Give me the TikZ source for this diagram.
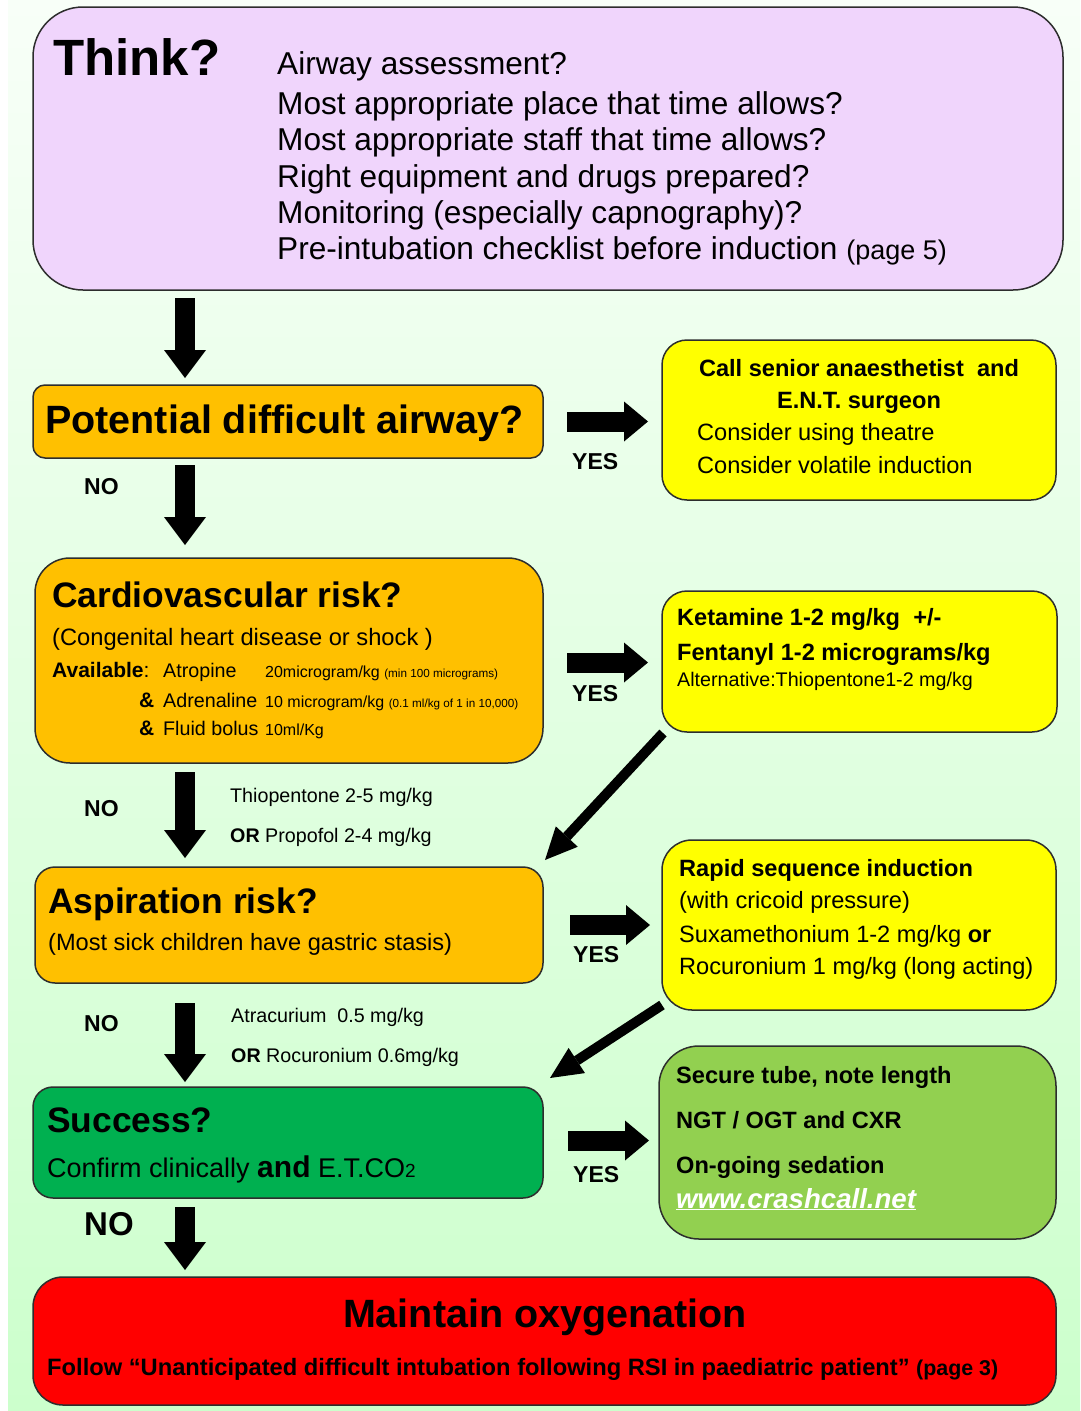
\documentclass[tikz,border=0pt]{standalone}
\usepackage{fontspec}
\setmainfont{Liberation Sans}
\usetikzlibrary{arrows.meta,calc}

\definecolor{thinkfill}{RGB}{240,213,252}
\definecolor{orangefill}{RGB}{255,192,0}
\definecolor{yellowfill}{RGB}{255,255,0}
\definecolor{greenfill}{RGB}{0,176,80}
\definecolor{limefill}{RGB}{146,208,80}
\definecolor{redfill}{RGB}{255,0,0}
\definecolor{edge}{RGB}{45,45,45}
\definecolor{bgtop}{RGB}{248,255,248}
\definecolor{bgbottom}{RGB}{204,255,204}

\newcommand{\fsz}[1]{\fontsize{#1}{#1}\selectfont}

\begin{document}
\begin{tikzpicture}[
  x=1pt, y=-1pt,
  box/.style={draw=edge, line width=1.5pt, inner sep=0pt, outer sep=0pt, anchor=north west},
  txt/.style={inner sep=0pt, anchor=base west},
  ctxt/.style={inner sep=0pt, anchor=base},
  lbl/.style={txt, font=\bfseries\fsz{23}},
  body/.style={txt, font=\fsz{23.6}},
  bbody/.style={txt, font=\bfseries\fsz{23.6}},
  small/.style={txt, font=\fsz{19.7}},
  head/.style={txt, font=\bfseries\fsz{35.4}},
  blk/.style={line width=20pt, -{Triangle[width=42pt,length=28pt,line width=0pt]}},
  yes/.style={line width=20pt, -{Triangle[width=40pt,length=24pt,line width=0pt]}},
  diag/.style={line width=10pt, -{Triangle[width=30pt,length=32pt,line width=0pt]}}
]
% background
\fill[white] (0,0) rectangle (1080,1411);
\shade[top color=bgtop, bottom color=bgbottom] (8,0) rectangle (1080,1411);
\useasboundingbox (0,0) rectangle (1080,1411);

% boxes
\node[box, fill=thinkfill, rounded corners=50pt, minimum width=1030pt, minimum height=283pt] (think) at (33,7) {};
\node[box, fill=orangefill, rounded corners=12pt, minimum width=510pt, minimum height=73pt] (pda) at (33,385) {};
\node[box, fill=yellowfill, rounded corners=25pt, minimum width=394pt, minimum height=160pt] (ent) at (662,340) {};
\node[box, fill=orangefill, rounded corners=35pt, minimum width=508pt, minimum height=205pt] (cardio) at (35,558) {};
\node[box, fill=yellowfill, rounded corners=25pt, minimum width=395pt, minimum height=141pt] (ket) at (662,591) {};
\node[box, fill=orangefill, rounded corners=20pt, minimum width=508pt, minimum height=116pt] (asp) at (35,867) {};
\node[box, fill=yellowfill, rounded corners=30pt, minimum width=394pt, minimum height=170pt] (rsi) at (662,840) {};
\node[box, fill=greenfill, rounded corners=20pt, minimum width=510pt, minimum height=111pt] (succ) at (33,1087) {};
\node[box, fill=limefill, rounded corners=40pt, minimum width=397pt, minimum height=193pt] (tube) at (659,1046) {};
\node[box, fill=redfill, rounded corners=30pt, minimum width=1023pt, minimum height=128pt] (oxy) at (33,1277) {};

% think box
\node[txt, font=\bfseries\fsz{51}] (thinkt) at (53,75) {Think?};
\foreach \q/\yy [count=\i] in {Airway assessment?/74, Most appropriate place that time allows?/114,
    Most appropriate staff that time allows?/150, Right equipment and drugs prepared?/187,
    Monitoring (especially capnography)?/223,
    {Pre-intubation checklist before induction {\fsz{27}(page 5)}}/259}
  \node[txt, font=\fsz{31.6}] (think\i) at (277,\yy) {\q};

% difficult airway
\node[txt, font=\bfseries\fsz{39.5}] (pdat) at (45,433) {Potential difficult airway?};
\node[ctxt, font=\bfseries\fsz{23.6}] (ent1) at (859,376) {Call senior anaesthetist\ \ and};
\node[ctxt, font=\bfseries\fsz{23.6}] (ent2) at (859,408) {E.N.T. surgeon};
\node[body] (ent3) at (697,440) {Consider using theatre};
\node[body] (ent4) at (697,473) {Consider volatile induction};

% cardiovascular
\node[head] (cardiot) at (52,607) {Cardiovascular risk?};
\node[txt, font=\fsz{23.7}] (cardio1) at (52,645) {(Congenital heart disease or shock )};
\node[txt, font=\fsz{21}] (avail) at (52,677) {\textbf{Available}:};
\node[small] (atro) at (163,677) {Atropine};
\node[txt, font=\fsz{16}] (atrodose) at (265,677) {20microgram/kg {\fsz{11.7}(min 100 micrograms)}};
\node[txt, font=\bfseries\fsz{21}] (amp1) at (139,707) {\&};
\node[small] (adre) at (163,707) {Adrenaline};
\node[txt, font=\fsz{16}] (adredose) at (265,707) {10 microgram/kg {\fsz{11.7}(0.1 ml/kg of 1 in 10,000)}};
\node[txt, font=\bfseries\fsz{21}] (amp2) at (139,735) {\&};
\node[small] (fluid) at (163,735) {Fluid bolus};
\node[txt, font=\fsz{16}] (fluiddose) at (265,735) {10ml/Kg};
\node[bbody] (ket1) at (677,625) {Ketamine 1-2 mg/kg\ \ +/-};
\node[bbody] (ket2) at (677,660) {Fentanyl 1-2 micrograms/kg};
\node[small] (ket3) at (677,686) {Alternative:Thiopentone1-2 mg/kg};
\node[small] (thio1) at (230,802) {Thiopentone 2-5 mg/kg};
\node[small] (thio2) at (230,842) {\textbf{OR} Propofol 2-4 mg/kg};

% aspiration
\node[head] (aspt) at (48,913) {Aspiration risk?};
\node[body] (asp1) at (48,950) {(Most sick children have gastric stasis)};
\node[bbody] (rsi1) at (679,876) {Rapid sequence induction};
\node[body] (rsi2) at (679,908) {(with cricoid pressure)};
\node[body] (rsi3) at (679,942) {Suxamethonium 1-2 mg/kg \textbf{or}};
\node[body] (rsi4) at (679,974) {Rocuronium 1 mg/kg (long acting)};
\node[small] (atra1) at (231,1022) {Atracurium\ \ 0.5 mg/kg};
\node[small] (atra2) at (231,1062) {\textbf{OR} Rocuronium 0.6mg/kg};

% success
\node[head] (succt) at (47,1132) {Success?};
\node[txt, font=\fsz{27}] (succ1) at (47,1177) {Confirm clinically {\bfseries\fsz{30}and} E.T.CO{\fsz{19}2}};
\node[bbody] (tube1) at (676,1083) {Secure tube, note length};
\node[bbody] (tube2) at (676,1128) {NGT / OGT and CXR};
\node[bbody] (tube3) at (676,1173) {On-going sedation};
\node[txt, font=\bfseries\itshape\fsz{27.6}, text=white] (tube4) at (676,1208) {\underline{www.crashcall.net}};

% maintain oxygenation
\node[ctxt, font=\bfseries\fsz{39.5}] (oxyt) at (545,1327) {Maintain oxygenation};
\node[txt, font=\bfseries\fsz{23.7}] (oxy1) at (47,1375) {Follow “Unanticipated difficult intubation following RSI in paediatric patient” {\fsz{21.4}(page 3)}};

% yes / no labels
\node[lbl] (yes1) at (572,469) {YES};
\node[lbl] (yes2) at (572,701) {YES};
\node[lbl] (yes3) at (573,962) {YES};
\node[lbl] (yes4) at (573,1182) {YES};
\node[lbl] (no1) at (84,494) {NO};
\node[lbl] (no2) at (84,816) {NO};
\node[lbl] (no3) at (84,1031) {NO};
\node[txt, font=\bfseries\fsz{33}] (no4) at (84,1235) {NO};

% arrows
\coordinate (col) at (185,0);
\draw[blk] ($(think.south -| col)+(0,8)$) -- ($(pda.north -| col)+(0,-7)$);
\draw[blk] ($(pda.south -| col)+(0,7)$) -- ($(cardio.north -| col)+(0,-13)$);
\draw[blk] ($(cardio.south -| col)+(0,9)$) -- ($(asp.north -| col)+(0,-9)$);
\draw[blk] ($(asp.south -| col)+(0,20)$) -- ($(succ.north -| col)+(0,-5)$);
\draw[blk] ($(succ.south -| col)+(0,9)$) -- ($(oxy.north -| col)+(0,-7)$);
\draw[yes] ($(pda.east)+(24,0)$) -- ($(pda.east -| ent.west)+(-14,0)$);
\draw[yes] ($(cardio.east)+(24,2)$) -- ($(cardio.east -| ket.west)+(-14,2)$);
\draw[yes] ($(asp.east)+(27,0)$) -- ($(asp.east -| rsi.west)+(-12,0)$);
\draw[yes] ($(succ.east)+(25,-2)$) -- ($(succ.east -| tube.west)+(-10,-2)$);
\draw[diag] ($(ket.south west)+(1,1)$) -- ($(asp.north east)+(2,-7)$);
\draw[diag] ($(rsi.south west)+(0,-5)$) -- ($(succ.north east)+(7,-9)$);
\end{tikzpicture}
\end{document}
